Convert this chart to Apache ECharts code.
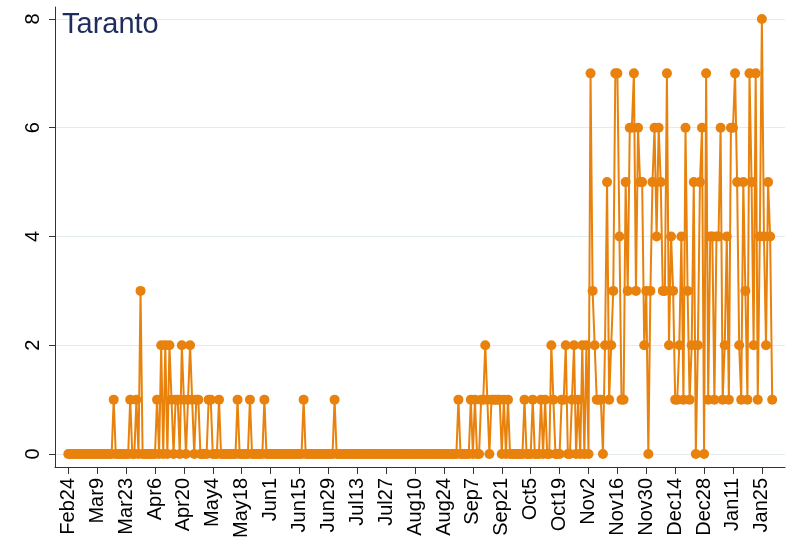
<!DOCTYPE html>
<html>
<head>
<meta charset="utf-8">
<script src="https://cdn.jsdelivr.net/npm/echarts@6/dist/echarts.min.js"></script>
<style>
html,body{margin:0;padding:0;background:#ffffff;}
#chart{width:790px;height:541px;}
</style>
</head>
<body>
<div id="chart"></div>
<script>
// Daily values, 24 Feb 2020 – 30 Jan 2021, one small array per month
const feb = [0,0,0,0,0,0];
const mar = [0,0,0,0,0,0,0,0,0,0, 0,0,0,0,0,0,1,0,0,0, 0,0,0,0,1,0,0,1,0,3, 0];
const apr = [0,0,0,0,0,0,1,0,2,0, 2,0,2,1,0,1,1,0,2,1, 0,1,2,1,0,1,1,0,0,0];
const may = [0,1,1,0,0,0,1,0,0,0, 0,0,0,0,0,1,0,0,0,0, 0,1,0,0,0,0,0,0,1,0, 0];
const jun = [0,0,0,0,0,0,0,0,0,0, 0,0,0,0,0,0,1,0,0,0, 0,0,0,0,0,0,0,0,0,0];
const jul = [0,1,0,0,0,0,0,0,0,0, 0,0,0,0,0,0,0,0,0,0, 0,0,0,0,0,0,0,0,0,0, 0];
const aug = [0,0,0,0,0,0,0,0,0,0, 0,0,0,0,0,0,0,0,0,0, 0,0,0,0,0,0,0,0,0,0, 1];
const sep = [0,0,0,0,0,1,0,1,0,0, 1,1,2,1,0,1,1,1,1,1, 0,1,0,1,0,0,0,0,0,0];
const oct = [0,1,0,0,0,1,0,0,0,1, 0,1,0,0,2,1,0,0,0,1, 1,2,0,0,1,2,0,1,0,2, 0];
const nov = [2,0,7,3,2,1,1,1,0,2, 5,1,2,3,7,7,4,1,1,5, 3,6,6,7,3,6,5,5,2,3];
const dec = [0,3,5,6,4,6,5,3,3,7, 2,4,3,1,1,2,4,1,6,3, 1,2,5,0,2,5,6,0,7,1, 4];
const jan = [4,1,4,4,6,1,2,4,1,6, 6,7,5,2,1,5,3,1,7,5, 2,7,1,4,8,4,2,5,4,1];

// Axis tick labels (every 14 days from Feb24)
const tickLabels = ["Feb24","Mar9","Mar23","Apr6","Apr20","May4","May18","Jun1","Jun15","Jun29",
  "Jul13","Jul27","Aug10","Aug24","Sep7","Sep21","Oct5","Oct19","Nov2","Nov16","Nov30",
  "Dec14","Dec28","Jan11","Jan25"];
const tickStepDays = 14;
const yTicks = [0,2,4,6,8];

const values = [].concat(feb, mar, apr, may, jun, jul, aug, sep, oct, nov, dec, jan);
const seriesData = values.map((v, i) => [i, v]);
const tickDays = tickLabels.map((_, i) => i * tickStepDays);
const labelByDay = {};
tickDays.forEach((d, i) => { labelByDay[d] = tickLabels[i]; });

const ORANGE = '#e8820c';
const FONT = 'Liberation Sans';

const chart = echarts.init(document.getElementById('chart'), null, {renderer: 'canvas'});
chart.setOption({
  backgroundColor: '#ffffff',
  animation: false,
  title: {
    text: 'Taranto',
    left: 57,
    top: 5,
    textStyle: {fontFamily: FONT, fontSize: 29, fontWeight: 'normal', color: '#1f2d5c'}
  },
  grid: {left: 55, right: 5, top: 7, bottom: 72, containLabel: false},
  xAxis: {
    type: 'value',
    min: -6.44,
    max: 347.2,
    axisLine: {show: true, onZero: false, lineStyle: {color: '#333333', width: 1}},
    axisTick: {show: true, length: 7, customValues: tickDays, lineStyle: {color: '#333333'}},
    axisLabel: {
      show: true, customValues: tickDays, rotate: 90, margin: 11,
      fontFamily: FONT, fontSize: 20, color: '#000000',
      formatter: v => labelByDay[v] || ''
    },
    splitLine: {show: false}
  },
  yAxis: {
    type: 'value',
    min: -0.238,
    max: 8.22,
    axisLine: {show: true, onZero: false, lineStyle: {color: '#333333', width: 1}},
    axisTick: {show: true, length: 6, customValues: yTicks, lineStyle: {color: '#333333'}},
    axisLabel: {
      show: true, customValues: yTicks, rotate: 90, margin: 12,
      fontFamily: FONT, fontSize: 20, color: '#000000'
    },
    splitLine: {show: true, lineStyle: {color: '#e3ebee', width: 1}}
  },
  series: [{
    type: 'line',
    data: seriesData,
    showAllSymbol: true,
    symbol: 'circle',
    symbolSize: 10,
    sampling: null,
    lineStyle: {color: ORANGE, width: 2},
    itemStyle: {color: ORANGE},
    emphasis: {disabled: true}
  }]
});
</script>
</body>
</html>
